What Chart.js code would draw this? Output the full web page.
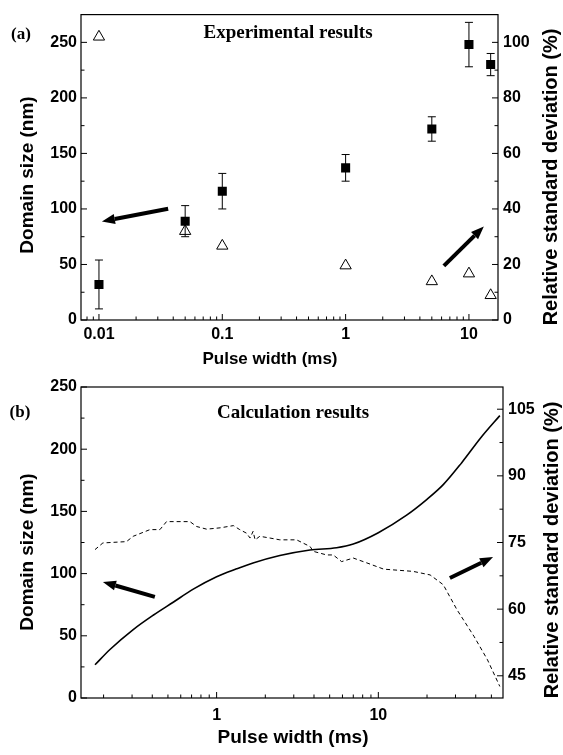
<!DOCTYPE html>
<html>
<head>
<meta charset="utf-8">
<script src="https://cdn.jsdelivr.net/npm/chart.js@4.4.0/dist/chart.umd.min.js"></script>
<style>
  html, body { margin: 0; padding: 0; background: #fff; }
  #wrap { position: relative; width: 563px; height: 755px; }
  canvas { position: absolute; left: 0; }
  #chartA { top: 0; }
  #chartB { top: 370px; }
</style>
</head>
<body>
<div id="wrap">
  <canvas id="chartA" width="563" height="370"></canvas>
  <canvas id="chartB" width="563" height="385"></canvas>
</div>
<script>
// (a) experimental results
var pulseA = [0.01, 0.05, 0.1, 1, 5, 10, 15];
var domainA = [32, 89, 116, 137, 172, 248, 230];
var domainErrA = [22, 14, 16, 12, 11, 20, 10];
var rsdA = [102, 32, 26.7, 19.6, 13.9, 16.7, 8.9];

// (b) calculation results
var pulseSolidB = [0.177, 0.219, 0.305, 0.405, 0.539, 0.717, 1.0, 1.33, 1.68, 2.46, 3.78, 5.52, 7.0, 10, 14.96, 19.9, 25.2, 32.7, 43.5, 56.4];
var domainB = [26.7, 39, 55, 66.5, 77, 87.5, 97.5, 103.8, 108.5, 114.5, 119, 120.8, 123.8, 132.9, 147, 159.5, 171.5, 189, 210, 227];
var pulseDashB = [0.177, 0.198, 0.277, 0.305, 0.387, 0.446, 0.49, 0.684, 0.752, 0.867, 1.05, 1.27, 1.39, 1.53, 1.61, 1.68, 1.73, 1.85, 2.14, 2.46, 3.12, 3.78, 3.97, 4.79, 5.26, 5.93, 7.0, 8.5, 10.8, 16.4, 20.9, 25.2, 30.6, 39, 47.3, 56.4];
var rsdB = [73.4, 74.9, 75.2, 76.4, 77.9, 77.9, 79.7, 79.7, 78.6, 78, 78.3, 78.8, 77.9, 77.1, 76, 77.5, 75.6, 76.4, 76, 75.6, 75.6, 74.1, 73, 72.2, 72.2, 70.7, 71.5, 70.4, 69, 68.5, 67.7, 65.5, 59.9, 53.9, 48.6, 42.6];

// tick labels
var ticksAX = [0.01, 0.1, 1, 10];
var ticksAY = [0, 50, 100, 150, 200, 250];
var ticksAY2 = [0, 20, 40, 60, 80, 100];
var ticksBX = [1, 10];
var ticksBY = [0, 50, 100, 150, 200, 250];
var ticksBY2 = [45, 60, 75, 90, 105];

var SANS = '"Liberation Sans", Arial, sans-serif';
var SERIF = '"Liberation Serif", "Times New Roman", serif';
var tickFont = { family: SANS, weight: 'bold', size: 16 };

function setTicks(list) {
  return function (scale) { scale.ticks = list.map(function (v) { return { value: v }; }); };
}

function logMinor(min, max) {
  var out = [];
  for (var e = Math.floor(Math.log10(min)); e <= Math.ceil(Math.log10(max)); e++) {
    for (var k = 1; k < 10; k++) {
      var v = k * Math.pow(10, e);
      if (v >= min && v <= max) out.push({ v: v, major: k === 1 });
    }
  }
  return out;
}

function midTicks(list) {
  var out = list.map(function (v) { return { v: v, major: true }; });
  for (var i = 0; i < list.length - 1; i++) out.push({ v: (list[i] + list[i + 1]) / 2, major: false });
  return out;
}

function arrow(ctx, x1, y1, x2, y2) {
  var ang = Math.atan2(y2 - y1, x2 - x1);
  var hl = 13, hw = 5;
  var bx = x2 - Math.cos(ang) * hl, by = y2 - Math.sin(ang) * hl;
  ctx.save();
  ctx.strokeStyle = '#000';
  ctx.fillStyle = '#000';
  ctx.lineWidth = 4;
  ctx.beginPath();
  ctx.moveTo(x1, y1);
  ctx.lineTo(bx, by);
  ctx.stroke();
  ctx.beginPath();
  ctx.moveTo(x2, y2);
  ctx.lineTo(bx + Math.sin(ang) * hw, by - Math.cos(ang) * hw);
  ctx.lineTo(bx - Math.sin(ang) * hw, by + Math.cos(ang) * hw);
  ctx.closePath();
  ctx.fill();
  ctx.restore();
}

function text(ctx, str, x, y, font, rot) {
  ctx.save();
  ctx.font = font;
  ctx.fillStyle = '#000';
  ctx.textAlign = 'center';
  ctx.textBaseline = 'middle';
  ctx.translate(x, y);
  if (rot) ctx.rotate(rot);
  ctx.fillText(str, 0, 0);
  ctx.restore();
}

// frame, inward ticks, arrows and labels
function decor(cfg) {
  return {
    id: 'decor',
    beforeDatasetsDraw: function (chart) {
      if (cfg.errors) cfg.errors(chart);
    },
    afterDraw: function (chart) {
      var ctx = chart.ctx, a = chart.chartArea;
      var xs = chart.scales.x, ys = chart.scales.y, ys2 = chart.scales.y1;
      ctx.save();
      ctx.strokeStyle = '#000';
      ctx.lineWidth = 1.2;
      ctx.strokeRect(a.left, a.top, a.right - a.left, a.bottom - a.top);
      ctx.lineWidth = 1;
      ctx.beginPath();
      logMinor(xs.min, xs.max).forEach(function (t) {
        var p = xs.getPixelForValue(t.v);
        ctx.moveTo(p, a.bottom);
        ctx.lineTo(p, a.bottom - (t.major ? 6 : 3.5));
      });
      cfg.yTicks.forEach(function (t) {
        var p = ys.getPixelForValue(t.v);
        ctx.moveTo(a.left, p);
        ctx.lineTo(a.left + (t.major ? 6 : 3.5), p);
      });
      cfg.y2Ticks.forEach(function (t) {
        var p = ys2.getPixelForValue(t.v);
        ctx.moveTo(a.right, p);
        ctx.lineTo(a.right - (t.major ? 6 : 3.5), p);
      });
      ctx.stroke();
      ctx.restore();

      cfg.arrows.forEach(function (ar) {
        arrow(ctx, xs.getPixelForValue(ar[0]), ys.getPixelForValue(ar[1]),
                   xs.getPixelForValue(ar[2]), ys.getPixelForValue(ar[3]));
      });

      var L = cfg.labels;
      text(ctx, L.panel, L.panelPos[0], L.panelPos[1], 'bold 17px ' + SERIF);
      text(ctx, L.title, L.titlePos[0], L.titlePos[1], 'bold 19px ' + SERIF);
      text(ctx, 'Domain size (nm)', L.yPos[0], L.yPos[1], 'bold 19px ' + SANS, -Math.PI / 2);
      text(ctx, 'Relative standard deviation (%)', L.y2Pos[0], L.y2Pos[1], 'bold 20px ' + SANS, -Math.PI / 2);
      text(ctx, 'Pulse width (ms)', L.xPos[0], L.xPos[1], 'bold ' + L.xSize + 'px ' + SANS);
    }
  };
}

function axis(extra) {
  var base = {
    grid: { display: false, drawTicks: false },
    border: { display: false },
    ticks: { font: tickFont, color: '#000', autoSkip: false, maxRotation: 0 }
  };
  for (var k in extra) {
    if (k === 'ticks') Object.assign(base.ticks, extra.ticks);
    else base[k] = extra[k];
  }
  return base;
}

Chart.defaults.font.family = SANS;

new Chart(document.getElementById('chartA'), {
  type: 'scatter',
  data: {
    datasets: [{
      label: 'Domain size',
      data: pulseA.map(function (x, i) { return { x: x, y: domainA[i] }; }),
      yAxisID: 'y',
      pointStyle: 'rect',
      pointRadius: 6.4,
      backgroundColor: '#000',
      borderColor: '#000',
      borderWidth: 0
    }, {
      label: 'Relative standard deviation',
      data: pulseA.map(function (x, i) { return { x: x, y: rsdA[i] }; }),
      yAxisID: 'y1',
      pointStyle: 'triangle',
      pointRadius: 6.5,
      backgroundColor: 'rgba(0,0,0,0)',
      borderColor: '#000',
      borderWidth: 1
    }]
  },
  options: {
    responsive: false,
    animation: false,
    layout: { padding: { top: 10, left: 0, right: 0, bottom: 0 } },
    plugins: { legend: { display: false }, tooltip: { enabled: false } },
    scales: {
      x: axis({
        type: 'logarithmic', min: 0.00715, max: 17.2,
        afterBuildTicks: setTicks(ticksAX),
        afterFit: function (s) { s.height = 50; },
        ticks: { padding: 5, callback: function (v) { return String(v); } }
      }),
      y: axis({
        position: 'left', min: 0, max: 275,
        afterBuildTicks: setTicks(ticksAY),
        afterFit: function (s) { s.width = 81; },
        ticks: { padding: 4 }
      }),
      y1: axis({
        position: 'right', min: 0, max: 110,
        afterBuildTicks: setTicks(ticksAY2),
        afterFit: function (s) { s.width = 65; },
        ticks: { padding: 5 }
      })
    }
  },
  plugins: [decor({
    yTicks: midTicks(ticksAY),
    y2Ticks: midTicks(ticksAY2),
    arrows: [[0.0364, 100.2, 0.01057, 88.7], [6.26, 48.8, 13.2, 84.2]],
    errors: function (chart) {
      var ctx = chart.ctx, xs = chart.scales.x, ys = chart.scales.y;
      ctx.save();
      ctx.strokeStyle = '#000';
      ctx.lineWidth = 1;
      ctx.beginPath();
      pulseA.forEach(function (p, i) {
        var x = xs.getPixelForValue(p);
        var t = ys.getPixelForValue(domainA[i] + domainErrA[i]);
        var b = ys.getPixelForValue(domainA[i] - domainErrA[i]);
        ctx.moveTo(x, t); ctx.lineTo(x, b);
        ctx.moveTo(x - 4, t); ctx.lineTo(x + 4, t);
        ctx.moveTo(x - 4, b); ctx.lineTo(x + 4, b);
      });
      ctx.stroke();
      ctx.restore();
    },
    labels: {
      panel: '(a)', panelPos: [21, 35],
      title: 'Experimental results', titlePos: [288, 33],
      yPos: [28, 175], y2Pos: [551, 177],
      xPos: [270, 359], xSize: 17
    }
  })]
});

new Chart(document.getElementById('chartB'), {
  type: 'scatter',
  data: {
    datasets: [{
      label: 'Domain size',
      data: pulseSolidB.map(function (x, i) { return { x: x, y: domainB[i] }; }),
      yAxisID: 'y',
      showLine: true,
      pointRadius: 0,
      borderColor: '#000',
      borderWidth: 1.6,
      cubicInterpolationMode: 'monotone'
    }, {
      label: 'Relative standard deviation',
      data: pulseDashB.map(function (x, i) { return { x: x, y: rsdB[i] }; }),
      yAxisID: 'y1',
      showLine: true,
      pointRadius: 0,
      borderColor: '#000',
      borderWidth: 1,
      borderDash: [4, 3]
    }]
  },
  options: {
    responsive: false,
    animation: false,
    layout: { padding: { top: 17, left: 0, right: 0, bottom: 0 } },
    plugins: { legend: { display: false }, tooltip: { enabled: false } },
    scales: {
      x: axis({
        type: 'logarithmic', min: 0.145, max: 59,
        afterBuildTicks: setTicks(ticksBX),
        afterFit: function (s) { s.height = 57; },
        ticks: { padding: 8, callback: function (v) { return String(v); } }
      }),
      y: axis({
        position: 'left', min: 0, max: 250,
        afterBuildTicks: setTicks(ticksBY),
        afterFit: function (s) { s.width = 81; },
        ticks: { padding: 4 }
      }),
      y1: axis({
        position: 'right', min: 40, max: 110,
        afterBuildTicks: setTicks(ticksBY2),
        afterFit: function (s) { s.width = 60; },
        ticks: { padding: 5 }
      })
    }
  },
  plugins: [decor({
    yTicks: midTicks(ticksBY),
    y2Ticks: midTicks(ticksBY2),
    arrows: [[0.415, 81.3, 0.198, 93.3], [27.7, 96.5, 51.2, 113.3]],
    labels: {
      panel: '(b)', panelPos: [20, 43],
      title: 'Calculation results', titlePos: [293, 43],
      yPos: [28, 182], y2Pos: [552, 180],
      xPos: [293, 368], xSize: 19
    }
  })]
});
</script>
</body>
</html>
